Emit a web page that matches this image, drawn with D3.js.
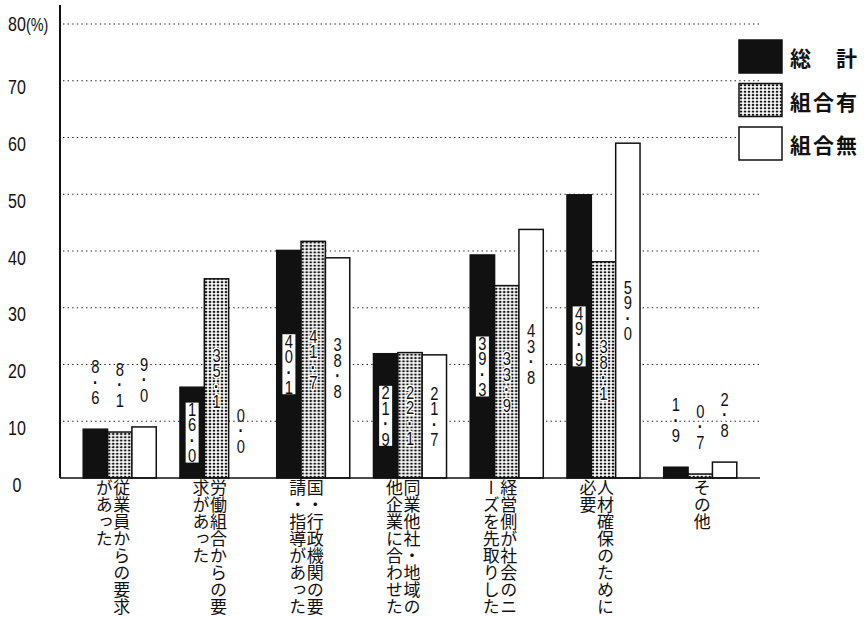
<!DOCTYPE html>
<html>
<head>
<meta charset="utf-8">
<script src="https://cdn.jsdelivr.net/npm/d3@7"></script>
<style>
  html, body { margin: 0; padding: 0; background: #fff; }
</style>
</head>
<body>
<svg id="chart" width="865" height="618"></svg>
<script>
// Reasons for introducing the system, by union status (%)
const categories = [
  "従業員からの要求があった",
  "労働組合からの要求があった",
  "国・行政機関の要請・指導があった",
  "同業他社・地域の他企業に合わせた",
  "経営側が社会のニーズを先取りした",
  "人材確保のために必要",
  "その他"
];
const seriesNames = ["総　計", "組合有", "組合無"];
const totalValues    = [8.6, 16.0, 40.1, 21.9, 39.3, 49.9, 1.9];
const unionValues    = [8.1, 35.1, 41.7, 22.1, 33.9, 38.1, 0.7];
const nonUnionValues = [9.0,  0.0, 38.8, 21.7, 43.8, 59.0, 2.8];
const yTicks = [0, 10, 20, 30, 40, 50, 60, 70, 80];
const yUnit = "(%)";

const seriesValues = [totalValues, unionValues, nonUnionValues];

const svg = d3.select("#chart");
const numFont = "'Liberation Sans', Arial, sans-serif";
const jpFont = "'Noto Sans CJK JP', 'Noto Sans CJK SC', sans-serif";
const narrow = 0.8; // horizontal squeeze for the numerals

// dotted fill used for the union series
const defs = svg.append("defs");
const pat = defs.append("pattern")
  .attr("id", "dots")
  .attr("patternUnits", "userSpaceOnUse")
  .attr("width", 4).attr("height", 3.3);
pat.append("rect").attr("width", 4).attr("height", 3.3).attr("fill", "#fff");
pat.append("rect").attr("x", 0.8).attr("y", 0.7).attr("width", 2.4).attr("height", 1.9).attr("fill", "#111");

const fills = ["#111", "url(#dots)", "#fff"];

const plotLeft = 60, plotRight = 760, plotTop = 24, plotBottom = 478;

const y = d3.scaleLinear().domain([0, 80]).range([plotBottom, plotTop]);
const x = d3.scaleBand()
  .domain(d3.range(categories.length))
  .range([plotLeft, plotRight])
  .paddingInner(0.245)
  .paddingOuter(0.24);
const xs = d3.scaleBand()
  .domain(d3.range(seriesNames.length))
  .range([0, x.bandwidth()])
  .padding(0);

// dotted horizontal grid
svg.append("g").selectAll("line")
  .data(yTicks.filter(t => t > 0))
  .join("line")
  .attr("x1", plotLeft + 3).attr("x2", plotRight)
  .attr("y1", d => y(d)).attr("y2", d => y(d))
  .attr("stroke", "#222")
  .attr("stroke-width", 1.2)
  .attr("stroke-dasharray", "1.4,3.2");

// y tick labels
const yLab = svg.append("g");
yLab.selectAll("text")
  .data(yTicks)
  .join("text")
  .attr("transform", d => `translate(17,${y(d) + (d === 80 ? 0 : 7)}) scale(${narrow},1)`)
  .attr("text-anchor", "middle")
  .attr("dominant-baseline", "central")
  .attr("font-family", numFont)
  .attr("font-size", 20)
  .attr("fill", "#111")
  .text(d => d);
yLab.append("text")
  .attr("transform", `translate(26,${y(80)}) scale(${narrow},1)`)
  .attr("dominant-baseline", "central")
  .attr("font-family", numFont)
  .attr("font-size", 18)
  .attr("fill", "#111")
  .text(yUnit);

// bars
const groups = svg.append("g").selectAll("g")
  .data(categories.map((c, i) => i))
  .join("g")
  .attr("transform", i => `translate(${x(i)},0)`);

groups.selectAll("rect")
  .data(i => seriesValues.map((vals, s) => ({ s, v: vals[i] })))
  .join("rect")
  .attr("x", d => xs(d.s))
  .attr("y", d => y(d.v))
  .attr("width", xs.bandwidth())
  .attr("height", d => y(0) - y(d.v))
  .attr("fill", d => fills[d.s])
  .attr("stroke", "#111")
  .attr("stroke-width", d => d.v > 0 ? 1.5 : 0);

// value labels, one character per line
const lineH = 15.5;
const fmt = d3.format(".1f");
groups.each(function (i) {
  const g = d3.select(this);
  seriesValues.forEach((vals, s) => {
    const v = vals[i];
    const chars = fmt(v).split("");
    const n = chars.length;
    const cx = xs(s) + xs.bandwidth() / 2;
    const inside = v >= 12;
    const cy = inside ? (y(v) + y(0)) / 2 : y(v) - 24 - n * lineH / 2;
    if (inside && s === 0) {
      g.append("rect")
        .attr("x", cx - 6.5).attr("width", 13)
        .attr("y", cy - n * lineH / 2 + 1)
        .attr("height", n * lineH - 2)
        .attr("fill", "#fff");
    }
    const t = g.append("text")
      .attr("transform", `translate(${cx},${cy}) scale(0.82,1)`)
      .attr("text-anchor", "middle")
      .attr("dominant-baseline", "central")
      .attr("font-family", numFont)
      .attr("font-size", 18)
      .attr("fill", "#111");
    chars.forEach((ch, k) => {
      t.append("tspan")
        .attr("x", 0)
        .attr("y", (k - (n - 1) / 2) * lineH)
        .attr("font-weight", ch === "." ? "bold" : null)
        .text(ch === "." ? "·" : ch);
    });
    if (inside && s === 1) {
      t.attr("stroke", "#fff").attr("stroke-width", 3)
        .attr("paint-order", "stroke").attr("stroke-linejoin", "round");
    }
  });
});

// axes
svg.append("line")
  .attr("x1", plotLeft).attr("x2", plotLeft)
  .attr("y1", 5).attr("y2", plotBottom)
  .attr("stroke", "#111").attr("stroke-width", 2);
svg.append("line")
  .attr("x1", plotLeft).attr("x2", plotRight)
  .attr("y1", plotBottom).attr("y2", plotBottom)
  .attr("stroke", "#111").attr("stroke-width", 1.6);

// category labels: vertical text in columns of 8 characters, right to left
const colW = 17.5;
svg.append("g").selectAll("g")
  .data(categories.map((c, i) => ({ c, i })))
  .join("g")
  .each(function (d) {
    const cols = [];
    for (let k = 0; k < d.c.length; k += 8) cols.push(d.c.slice(k, k + 8));
    const cx = x(d.i) + x.bandwidth() / 2 + 2;
    const t = d3.select(this).append("text")
      .attr("font-family", jpFont)
      .attr("font-size", 17)
      .attr("fill", "#111")
      .style("writing-mode", "vertical-rl");
    cols.forEach((c, j) => {
      t.append("tspan")
        .attr("x", cx - j * colW)
        .attr("y", plotBottom + 1)
        .text(c);
    });
  });

// legend
const legend = svg.append("g").attr("transform", "translate(739,40)");
seriesNames.forEach((name, s) => {
  const row = legend.append("g").attr("transform", `translate(0,${s * 43.5})`);
  row.append("rect")
    .attr("width", 43).attr("height", 33)
    .attr("fill", fills[s])
    .attr("stroke", "#111").attr("stroke-width", 1.5);
  row.append("text")
    .attr("x", 51).attr("y", 17)
    .attr("dominant-baseline", "central")
    .attr("font-family", jpFont)
    .attr("font-size", 21)
    .attr("font-weight", "bold")
    .attr("letter-spacing", 2)
    .attr("fill", "#111")
    .text(name);
});
</script>
</body>
</html>
